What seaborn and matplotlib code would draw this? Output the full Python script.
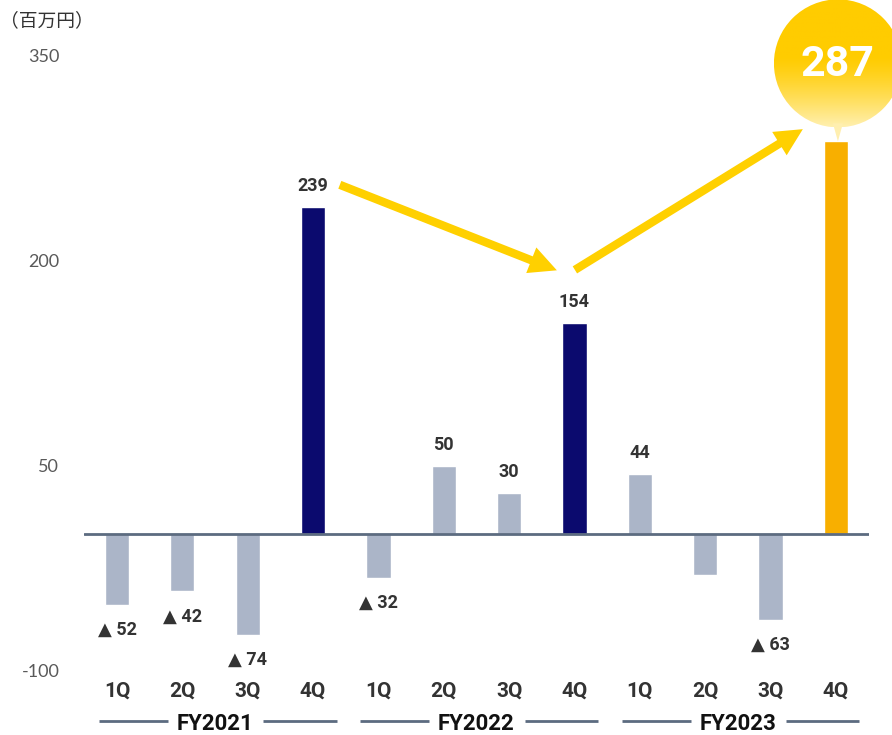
import numpy as np
import pandas as pd
import matplotlib
matplotlib.use("Agg")
import matplotlib.pyplot as plt
import seaborn as sns
from matplotlib.patches import Circle, Polygon, FancyArrowPatch
from matplotlib.colors import to_rgba

# ---------------- data ----------------
fiscal_years = ["FY2021", "FY2022", "FY2023"]
quarters = ["1Q", "2Q", "3Q", "4Q"]
values = [-52, -42, -74, 239, -32, 50, 30, 154, 44, -30, -63, 287]
value_labels = ["▲ 52", "▲ 42", "▲ 74", "239", "▲ 32", "50", "30", "154",
                "44", "", "▲ 63", ""]
highlight = ["grey", "grey", "grey", "navy", "grey", "grey", "grey", "navy",
             "grey", "grey", "grey", "orange"]
yticks = [350, 200, 50, -100]
unit_label = "（百万円）"
bubble_text = "287"

# ---------------- style ----------------
sns.set_theme(style="white")
plt.rcParams["font.family"] = ["Roboto", "DejaVu Sans"]

color_map = {"grey": "#abb5c8", "navy": "#0b0a6e", "orange": "#f8af00"}
keys = [f"{fy} {q}" for fy in fiscal_years for q in quarters]
df = pd.DataFrame({"key": keys, "value": values,
                   "kind": highlight})
palette = {k: color_map[h] for k, h in zip(keys, highlight)}

W, H = 892, 735
fig = plt.figure(figsize=(W / 100, H / 100), dpi=100)
ax = fig.add_axes([84.3 / W, 1 - 670.8 / H, 784.3 / W, 615.6 / H])

sns.barplot(data=df, x="key", y="value", hue="key", palette=palette,
            legend=False, width=0.37, saturation=1, ax=ax, zorder=2)

ax.set_xlim(-0.5, len(keys) - 0.5)
ax.set_ylim(min(yticks), max(yticks))
ax.axhline(0, color="#5c6b80", lw=2, zorder=3)

for s in ax.spines.values():
    s.set_visible(False)
ax.set_xlabel("")
ax.set_ylabel("")
ax.set_yticks(yticks)
ax.set_yticklabels([str(t) for t in yticks], fontsize=13, color="#595959",
                   family=["Lato", "DejaVu Sans"])
ax.set_xticks(range(len(keys)))
ax.set_xticklabels([q for fy in fiscal_years for q in quarters],
                   fontsize=15, fontweight="bold", color="#333333")
ax.tick_params(axis="y", length=0, pad=18)
ax.tick_params(axis="x", length=0, pad=8)
ax.grid(False)

# value labels
for i, (v, lab) in enumerate(zip(values, value_labels)):
    if not lab:
        continue
    off = 15 if v >= 0 else -18
    ax.annotate(lab, (i, v), xytext=(0, off), textcoords="offset points",
                ha="center", va="center", fontsize=13, fontweight="bold",
                color="#333333", family=["Roboto", "DejaVu Sans"],
                annotation_clip=False)

# fiscal-year group labels with side lines
trans = ax.get_xaxis_transform()
for g, fy in enumerate(fiscal_years):
    c = g * 4 + 1.5
    ax.text(c, -0.087, fy, transform=trans, ha="center", va="center",
            fontsize=16, fontweight="bold", color="#111111", clip_on=False)
    for x0, x1 in [(g * 4 - 0.28, c - 0.72), (c + 0.74, g * 4 + 3 + 0.36)]:
        ax.plot([x0, x1], [-0.082, -0.082], transform=trans, color="#5c6b80",
                lw=2, clip_on=False, solid_capstyle="butt")

# unit label
fig.text(0.0, 1 - 21 / H, unit_label, ha="left", va="center", fontsize=13.5,
         color="#333333", family=["Noto Sans CJK JP", "DejaVu Sans"])

# trend arrows (anchored on bars 4Q FY2021 -> 4Q FY2022 -> 4Q FY2023)
arrow_color = "#ffd000"
arrows = [((3.37, values[3] + 17), (6.77, values[7] + 38)),
          ((6.97, values[7] + 38), (10.53, values[11] + 10))]
for (s, e) in arrows:
    ax.add_patch(FancyArrowPatch(
        s, e, arrowstyle="simple,head_width=3.3,head_length=3.3,tail_width=1.0",
        mutation_scale=6, color=arrow_color, lw=0, zorder=4, clip_on=False))

# bubble over last bar
ov = fig.add_axes([0, 0, 1, 1], zorder=5)
ov.set_xlim(0, W)
ov.set_ylim(0, H)
ov.axis("off")
bx, by = ax.transData.transform((len(values) - 1, values[-1]))
r = 64
cx, cy = bx + 2, by + 78
circle = Circle((cx, cy), r, facecolor="none", edgecolor="none")
ov.add_patch(circle)
N = 256
top = np.array(to_rgba("#ffcc00"))
bot = np.array(to_rgba("#fff0b0"))
t = np.linspace(0, 1, N)
w = np.clip((t - 0.45) / 0.55, 0, 1) ** 1.3
img = (top[None, :] * (1 - w[:, None]) + bot[None, :] * w[:, None])[:, None, :]
im = ov.imshow(img, extent=[cx - r, cx + r, cy - r, cy + r], origin="upper",
               aspect="auto", zorder=1)
im.set_clip_path(circle)
ov.set_xlim(0, W)
ov.set_ylim(0, H)
ov.add_patch(Polygon([(cx - 5, cy - r + 4), (cx + 5, cy - r + 4), (bx + 2, by)],
                     closed=True, facecolor="#ffefb0", edgecolor="none",
                     zorder=1))
ov.text(cx, cy - 1, bubble_text, ha="center", va="center", color="white",
        fontsize=31, fontweight="bold", family=["Roboto", "DejaVu Sans"],
        zorder=3)

fig.savefig("out.png", dpi=100)
